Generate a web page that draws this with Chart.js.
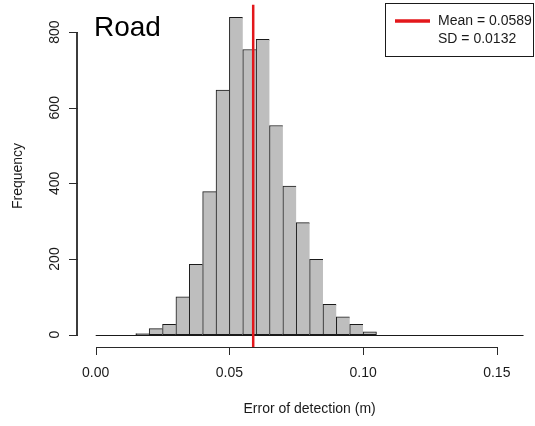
<!DOCTYPE html>
<html>
<head>
<meta charset="utf-8">
<script src="https://cdn.jsdelivr.net/npm/chart.js@4/dist/chart.umd.min.js"></script>
<style>
  html, body { margin: 0; padding: 0; background: #ffffff; overflow: hidden; }
  #wrap { width: 535px; height: 426px; }
</style>
</head>
<body>
<div id="wrap"><canvas id="hist" width="535" height="426"></canvas></div>
<script>
// Histogram bins: lower edge of each 0.005-wide bin and its count
const binStarts = [
  0.000, 0.005, 0.010, 0.015, 0.020, 0.025, 0.030, 0.035,
  0.040, 0.045, 0.050, 0.055, 0.060, 0.065, 0.070, 0.075,
  0.080, 0.085, 0.090, 0.095, 0.100, 0.105, 0.110, 0.115,
  0.120, 0.125, 0.130, 0.135, 0.140, 0.145, 0.150, 0.155
];
const counts = [
  0, 0, 0, 3, 16, 27, 100, 186,
  378, 647, 839, 754, 781, 553, 393, 296,
  199, 80, 47, 27, 7, 0, 0, 0,
  0, 0, 0, 0, 0, 0, 0, 0
];
const binWidth = 0.005;

// Summary statistics shown in the legend
const meanValue = 0.0589;
const sdValue = 0.0132;

// Axis ticks
const xTicks = [0.00, 0.05, 0.10, 0.15];
const yTicks = [0, 200, 400, 600, 800];

const titleText = 'Road';
const xTitle = 'Error of detection (m)';
const yTitle = 'Frequency';
const legendLines = ['Mean = ' + meanValue.toFixed(4), 'SD = ' + sdValue.toFixed(4)];

const FONT = '"Liberation Sans", Arial, Helvetica, sans-serif';
const INK = '#1a1a1a';
const AXIS = '#2a2a2a';
const RED = '#e3171b';

const barData = binStarts.map((s, i) => ({ x: s + binWidth / 2, y: counts[i] }));

// R-style axes, mean line, title and legend drawn from the chart scales
const rDecor = {
  id: 'rDecor',
  afterDraw(chart) {
    const ctx = chart.ctx;
    const xs = chart.scales.x, ys = chart.scales.y;
    const area = chart.chartArea;
    const px = v => xs.getPixelForValue(v);
    const py = v => ys.getPixelForValue(v);
    ctx.save();
    ctx.setLineDash([]);
    ctx.globalAlpha = 1;
    ctx.globalCompositeOperation = 'source-over';

    // baseline under the empty bins (from first to last break)
    const lastEdge = binStarts[binStarts.length - 1] + binWidth;
    ctx.fillStyle = INK;
    ctx.fillRect(px(binStarts[0]), Math.round(py(0)), px(lastEdge) - px(binStarts[0]), 1);

    // vertical line at the mean
    ctx.strokeStyle = RED;
    ctx.lineWidth = 2.5;
    ctx.beginPath();
    ctx.moveTo(px(meanValue), area.top);
    ctx.lineTo(px(meanValue), area.bottom);
    ctx.stroke();

    // x axis
    const xAxisY = Math.round(area.bottom);
    ctx.fillStyle = AXIS;
    const xa0 = Math.round(px(xTicks[0]));
    const xa1 = Math.round(px(xTicks[xTicks.length - 1]));
    ctx.fillRect(xa0, xAxisY, xa1 - xa0 + 1, 1);
    xTicks.forEach(t => ctx.fillRect(Math.round(px(t)), xAxisY, 1, 8));

    // y axis: line from the top tick to the bottom tick, plus tick marks
    const yAxisX = Math.round(area.left) - 1;
    const yTop = Math.round(py(yTicks[yTicks.length - 1]));
    const yBottom = Math.round(py(yTicks[0]));
    ctx.fillStyle = '#3c3c3c';
    ctx.fillRect(yAxisX - 1, yTop, 2, yBottom - yTop + 1);
    ctx.fillStyle = AXIS;
    yTicks.forEach(t => ctx.fillRect(yAxisX - 8, Math.round(py(t)), 9, 1));

    // tick labels
    ctx.fillStyle = INK;
    ctx.font = '14px ' + FONT;
    ctx.textAlign = 'center';
    ctx.textBaseline = 'alphabetic';
    xTicks.forEach(t => ctx.fillText(t.toFixed(2), px(t), xAxisY + 30));
    yTicks.forEach(t => {
      ctx.save();
      ctx.translate(yAxisX - 18.5, py(t));
      ctx.rotate(-Math.PI / 2);
      ctx.fillText(String(t), 0, 0);
      ctx.restore();
    });

    // axis titles
    const xMid = px((binStarts[0] + lastEdge) / 2);
    ctx.fillText(xTitle, xMid, xAxisY + 66);
    ctx.save();
    ctx.translate(22, (area.top + area.bottom) / 2);
    ctx.rotate(-Math.PI / 2);
    ctx.fillText(yTitle, 0, 0);
    ctx.restore();

    // panel title
    ctx.fillStyle = '#000';
    ctx.textAlign = 'left';
    ctx.font = '28px ' + FONT;
    ctx.fillText(titleText, 94, 36);

    // legend
    const lx = 385.5, ly = 3.5, lw = 148, lh = 53;
    ctx.fillStyle = '#fff';
    ctx.fillRect(lx, ly, lw, lh);
    ctx.strokeStyle = INK;
    ctx.lineWidth = 1;
    ctx.strokeRect(lx, ly, lw, lh);
    ctx.strokeStyle = RED;
    ctx.lineWidth = 3.5;
    ctx.beginPath();
    ctx.moveTo(395, 21);
    ctx.lineTo(430, 21);
    ctx.stroke();
    ctx.fillStyle = INK;
    ctx.font = '14px ' + FONT;
    ctx.textBaseline = 'middle';
    ctx.fillText(legendLines[0], 438, 21);
    ctx.fillText(legendLines[1], 438, 39);

    ctx.restore();
  }
};

new Chart(document.getElementById('hist'), {
  type: 'bar',
  data: {
    datasets: [{
      data: barData,
      backgroundColor: '#bebebe',
      borderColor: INK,
      borderSkipped: false,
      borderWidth: c => {
        const i = c.dataIndex;
        const last = i === counts.length - 1 || counts[i + 1] === 0;
        return { top: 1, left: 1, bottom: 1, right: last ? 1 : 0 };
      },
      barPercentage: 1,
      categoryPercentage: 1
    }]
  },
  options: {
    responsive: false,
    animation: false,
    devicePixelRatio: 1,
    layout: { padding: { left: 78, right: 0, top: 4.7, bottom: 78.7 } },
    plugins: { legend: { display: false }, tooltip: { enabled: false }, title: { display: false } },
    scales: {
      x: {
        type: 'linear',
        display: false,
        offset: false,
        min: -0.00662,
        max: 0.16429,
        afterBuildTicks: s => { s.ticks = xTicks.map(v => ({ value: v })); }
      },
      y: {
        type: 'linear',
        display: false,
        min: -33.6,
        max: 872.6,
        afterBuildTicks: s => { s.ticks = yTicks.map(v => ({ value: v })); }
      }
    }
  },
  plugins: [rDecor]
});
</script>
</body>
</html>
